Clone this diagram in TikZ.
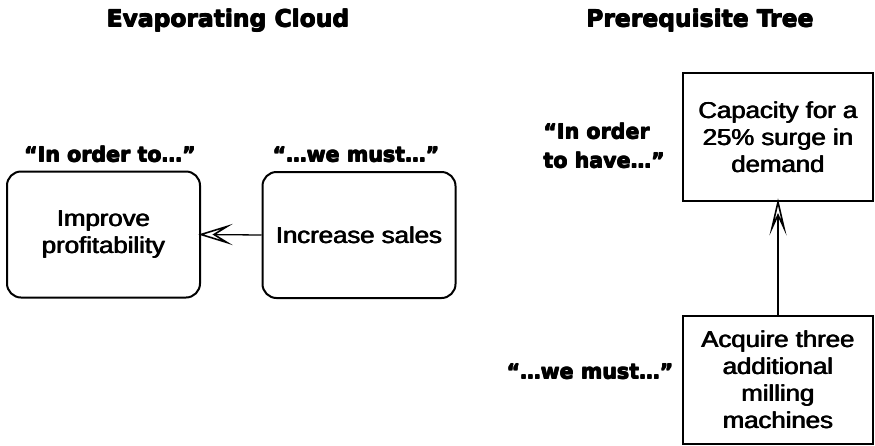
\documentclass[tikz,border=0pt]{standalone}
\usepackage{fontspec}
\setmainfont{Liberation Sans}
\newfontfamily\heavyfont{DejaVu Sans Bold}
\newfontfamily\boxfont[FakeStretch=1.12]{Liberation Sans}
% overlaid copies, shifted by fractions of a point, thicken the strokes
\newcommand\medtext[1]{\leavevmode\rlap{#1}\rlap{\kern.45pt #1}\kern.9pt #1}
\newcommand\heavytext[1]{\leavevmode\rlap{#1}\rlap{\raisebox{.4pt}{#1}}\rlap{\kern.7pt\raisebox{.4pt}{#1}}\kern.7pt #1}
\begin{document}
\begin{tikzpicture}[x=1pt,y=-1pt,
  titletext/.style={anchor=base,inner sep=0pt,font=\heavyfont\fontsize{23.4}{28}\selectfont},
  cue/.style={anchor=base,inner sep=0pt,font=\heavyfont\fontsize{20.6}{29}\selectfont},
  cloudbox/.style={draw,line width=2pt,rounded corners=14pt,minimum width=193pt,minimum height=126pt,
    align=center,inner sep=0pt,font=\boxfont\fontsize{23}{27.5}\selectfont},
  treebox/.style={draw,line width=2pt,minimum width=190pt,minimum height=128pt,
    align=center,inner sep=0pt,font=\boxfont\fontsize{23}{27}\selectfont},
  shaft/.style={line width=1.3pt},
  barb/.style={line width=1.6pt,line join=miter,fill=white}]
  \useasboundingbox (0,0) rectangle (875,445);

  % headings
  \node[titletext] (t1) at (228,27) {\heavytext{Evaporating Cloud}};
  \node[titletext] (t2) at (700,27) {\heavytext{Prerequisite Tree}};

  % evaporating cloud
  \node[cloudbox] (goal) at (103.5,234.5) {\medtext{Improve}\\\medtext{profitability}};
  \node[cloudbox] (act) at (359,235) {\medtext{Increase sales}};
  \node[cue] (c1) at (110,162) {\heavytext{“In order to…”}};
  \node[cue] (c2) at (356,162) {\heavytext{“…we must…”}};
  \draw[shaft] (act.west) -- (goal.east);
  \draw[barb] (goal.east) -- ++(26,-8) -- ++(-13,8) -- ++(13,8) -- cycle;

  % prerequisite tree
  \node[treebox] (need) at (778,137) {\medtext{Capacity for a}\\\medtext{25\% surge in}\\\medtext{demand}};
  \node[treebox] (step1) at (778,379.5) {\medtext{Acquire three}\\\medtext{additional}\\\medtext{milling}\\\medtext{machines}};
  \node[cue,align=left,anchor=north west] (c3) at (543,123) {\heavytext{“In order}\\\heavytext{to have…”}};
  \node[cue] (c4) at (590,379) {\heavytext{“…we must…”}};
  \draw[shaft] (step1.north) -- (need.south);
  \draw[barb] (need.south) -- ++(-6,26) -- ++(6,-13) -- ++(6,13) -- cycle;
\end{tikzpicture}
\end{document}
